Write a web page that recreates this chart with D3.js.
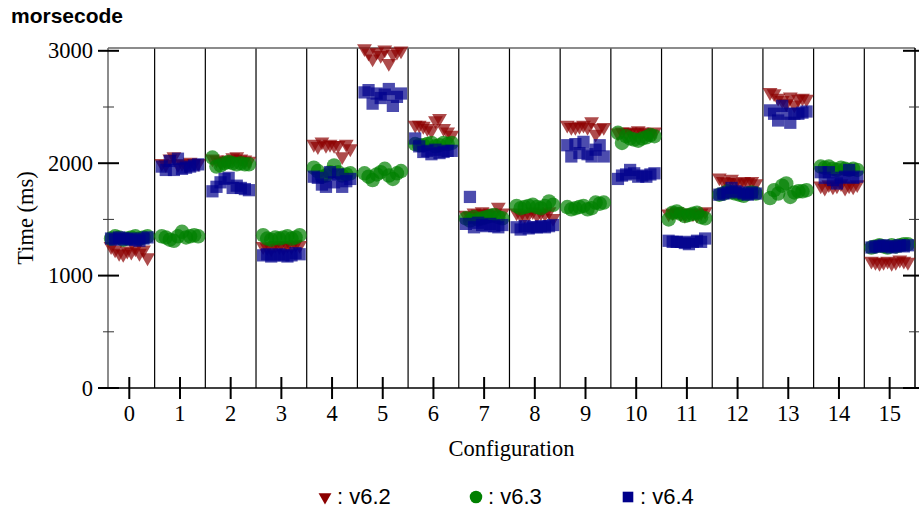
<!DOCTYPE html>
<html>
<head>
<meta charset="utf-8">
<script src="https://cdn.jsdelivr.net/npm/d3@7"></script>
<style>
  body { margin: 0; background: #fff; }
  svg { display: block; }
</style>
</head>
<body>
<svg id="chart"></svg>
<script>
const configs = d3.range(16);
const majorTicks = [0, 1000, 2000, 3000];
const minorTicks = [500, 1500, 2500];

// ten runs per configuration, ms
const v62 = [
  [1260, 1230, 1200, 1190, 1220, 1210, 1240, 1200, 1230, 1160],
  [2000, 1990, 2040, 2060, 1990, 2000, 1980, 2010, 2000, 2000],
  [2040, 2030, 2010, 2020, 2030, 2050, 2060, 2040, 2030, 2020],
  [1260, 1250, 1240, 1270, 1260, 1250, 1270, 1260, 1280, 1270],
  [2170, 2150, 2190, 2160, 2170, 2160, 2160, 2060, 2170, 2130],
  [3020, 2980, 2930, 2990, 2960, 3010, 2890, 2970, 2990, 3000],
  [2340, 2340, 2330, 2310, 2290, 2380, 2400, 2310, 2280, 2250],
  [1540, 1530, 1560, 1550, 1570, 1550, 1560, 1540, 1610, 1560],
  [1560, 1540, 1530, 1550, 1570, 1540, 1560, 1550, 1570, 1510],
  [2340, 2320, 2320, 2330, 2340, 2320, 2370, 2260, 2310, 2320],
  [2270, 2280, 2270, 2280, 2270, 2290, 2280, 2270, 2260, 2280],
  [1550, 1560, 1570, 1550, 1540, 1560, 1550, 1540, 1560, 1570],
  [1870, 1840, 1830, 1860, 1830, 1820, 1840, 1830, 1840, 1820],
  [2630, 2620, 2580, 2560, 2530, 2590, 2520, 2570, 2580, 2570],
  [1800, 1780, 1810, 1790, 1800, 1820, 1780, 1800, 1790, 1810],
  [1130, 1120, 1110, 1120, 1130, 1110, 1120, 1140, 1130, 1120]
];
const v63 = [
  [1330, 1350, 1340, 1320, 1330, 1340, 1350, 1330, 1340, 1350],
  [1350, 1340, 1320, 1310, 1350, 1390, 1340, 1350, 1360, 1350],
  [2050, 1970, 1980, 2000, 2010, 2000, 1990, 2000, 1990, 1990],
  [1360, 1330, 1320, 1340, 1330, 1340, 1350, 1330, 1340, 1360],
  [1960, 1930, 1880, 1890, 1920, 1980, 1920, 1890, 1900, 1910],
  [1910, 1880, 1850, 1900, 1920, 1950, 1890, 1860, 1910, 1930],
  [2170, 2160, 2160, 2170, 2180, 2150, 2160, 2180, 2170, 2180],
  [1510, 1490, 1520, 1500, 1510, 1520, 1530, 1540, 1520, 1510],
  [1620, 1600, 1610, 1620, 1630, 1610, 1600, 1620, 1660, 1630],
  [1610, 1590, 1600, 1610, 1620, 1590, 1600, 1650, 1640, 1650],
  [2270, 2180, 2240, 2220, 2210, 2200, 2220, 2230, 2250, 2240],
  [1500, 1560, 1570, 1550, 1530, 1540, 1550, 1560, 1520, 1510],
  [1720, 1730, 1750, 1740, 1730, 1720, 1710, 1730, 1740, 1730],
  [1690, 1760, 1730, 1800, 1820, 1700, 1740, 1750, 1750, 1760],
  [1970, 1960, 1970, 1950, 1940, 1960, 1950, 1940, 1950, 1940],
  [1250, 1260, 1270, 1260, 1250, 1270, 1260, 1270, 1280, 1280]
];
const v64 = [
  [1330, 1320, 1340, 1330, 1320, 1330, 1320, 1310, 1330, 1340],
  [1970, 1940, 2020, 1940, 2040, 1950, 1960, 1970, 1980, 1990],
  [1750, 1790, 1830, 1860, 1870, 1780, 1800, 1780, 1770, 1760],
  [1180, 1190, 1170, 1180, 1190, 1180, 1170, 1180, 1200, 1190],
  [1880, 1870, 1810, 1790, 1920, 1830, 1900, 1790, 1840, 1860],
  [2630, 2650, 2530, 2620, 2580, 2610, 2660, 2510, 2590, 2620],
  [2220, 2150, 2100, 2110, 2080, 2120, 2090, 2100, 2110, 2110],
  [1460, 1700, 1430, 1470, 1450, 1440, 1460, 1440, 1430, 1450],
  [1430, 1410, 1440, 1420, 1430, 1430, 1440, 1430, 1440, 1450],
  [2160, 2060, 2170, 2090, 2190, 2080, 2060, 2120, 2160, 2060],
  [1860, 1890, 1900, 1940, 1910, 1880, 1890, 1880, 1900, 1910],
  [1310, 1300, 1300, 1300, 1290, 1280, 1300, 1310, 1300, 1330],
  [1720, 1730, 1740, 1780, 1750, 1740, 1730, 1720, 1740, 1730],
  [2470, 2440, 2380, 2510, 2440, 2360, 2440, 2440, 2450, 2460],
  [1920, 1870, 1920, 1850, 1820, 1870, 1880, 1940, 1870, 1880],
  [1250, 1260, 1260, 1270, 1260, 1250, 1260, 1270, 1260, 1270]
];

const series = [
  {name: "v6.2", data: v62, color: "#8b0000", shape: d3.symbolTriangle, size: 95, rot: 180},
  {name: "v6.3", data: v63, color: "#008000", shape: d3.symbolCircle, size: 165, rot: 0},
  {name: "v6.4", data: v64, color: "#00008b", shape: d3.symbolSquare, size: 150, rot: 0}
];

const width = 919;
const height = 510;
const m = {left: 108, right: 915, top: 48, bottom: 388};

const svg = d3.select("#chart")
  .attr("width", width)
  .attr("height", height)
  .attr("viewBox", [0, 0, width, height]);

const x = d3.scaleLinear().domain([-0.42, 15.5]).range([m.left, m.right]);
const y = d3.scaleLinear().domain([0, 3025]).range([m.bottom, m.top]);

const serif = "'Liberation Serif', 'Times New Roman', serif";
const sans = "'Liberation Sans', Arial, sans-serif";

// title
svg.append("text")
  .attr("x", 11)
  .attr("y", 23)
  .attr("font-family", sans)
  .attr("font-weight", "bold")
  .attr("font-size", 21)
  .text("morsecode");

// separators between configurations
svg.append("g")
  .selectAll("line")
  .data(configs.slice(0, -1))
  .join("line")
  .attr("x1", d => x(d + 0.5))
  .attr("x2", d => x(d + 0.5))
  .attr("y1", m.top)
  .attr("y2", m.bottom)
  .attr("stroke", "#000")
  .attr("stroke-width", 1.2);

// frame
svg.append("line").attr("x1", m.left).attr("x2", m.right).attr("y1", m.top).attr("y2", m.top)
  .attr("stroke", "#666").attr("stroke-width", 1.5);
svg.append("line").attr("x1", m.left).attr("x2", m.left).attr("y1", m.top).attr("y2", m.bottom)
  .attr("stroke", "#666").attr("stroke-width", 1.5);
svg.append("line").attr("x1", m.right).attr("x2", m.right).attr("y1", m.top).attr("y2", m.bottom)
  .attr("stroke", "#000").attr("stroke-width", 1.5);
svg.append("line").attr("x1", m.left).attr("x2", m.right).attr("y1", m.bottom).attr("y2", m.bottom)
  .attr("stroke", "#000").attr("stroke-width", 1.5);

// points
const offset = i => (i - 4.5) * 0.08;
series.forEach(s => {
  const pts = [];
  s.data.forEach((runs, c) => runs.forEach((v, i) => pts.push({c, i, v})));
  svg.append("g")
    .attr("fill", s.color)
    .attr("fill-opacity", 0.7)
    .selectAll("path")
    .data(pts)
    .join("path")
    .attr("d", d3.symbol(s.shape, s.size))
    .attr("transform", d => `translate(${x(d.c + offset(d.i))},${y(d.v)}) rotate(${s.rot})`);
});

// y axis ticks
const yAxis = svg.append("g");
yAxis.selectAll(".maj")
  .data(majorTicks)
  .join("line")
  .attr("x1", m.left - 10).attr("x2", m.left + 11)
  .attr("y1", d => y(d)).attr("y2", d => y(d))
  .attr("stroke", "#000").attr("stroke-width", 2);
yAxis.selectAll(".min")
  .data(minorTicks)
  .join("line")
  .attr("x1", m.left - 5).attr("x2", m.left + 6)
  .attr("y1", d => y(d)).attr("y2", d => y(d))
  .attr("stroke", "#333").attr("stroke-width", 1);
yAxis.selectAll(".rmaj")
  .data(majorTicks)
  .join("line")
  .attr("x1", m.right - 12).attr("x2", m.right + 4)
  .attr("y1", d => y(d)).attr("y2", d => y(d))
  .attr("stroke", "#000").attr("stroke-width", 2);
yAxis.selectAll(".rmin")
  .data(minorTicks)
  .join("line")
  .attr("x1", m.right - 6).attr("x2", m.right + 4)
  .attr("y1", d => y(d)).attr("y2", d => y(d))
  .attr("stroke", "#333").attr("stroke-width", 1);
yAxis.selectAll("text")
  .data(majorTicks)
  .join("text")
  .attr("x", m.left - 15)
  .attr("y", d => y(d) + 7.5)
  .attr("text-anchor", "end")
  .attr("font-family", serif)
  .attr("font-size", 22.5)
  .text(d => d);

// x axis ticks
const xAxis = svg.append("g");
xAxis.selectAll("line")
  .data(configs)
  .join("line")
  .attr("x1", d => x(d)).attr("x2", d => x(d))
  .attr("y1", m.bottom - 11).attr("y2", m.bottom + 11)
  .attr("stroke", "#000").attr("stroke-width", 2);
xAxis.selectAll("text")
  .data(configs)
  .join("text")
  .attr("x", d => x(d))
  .attr("y", 421)
  .attr("text-anchor", "middle")
  .attr("font-family", serif)
  .attr("font-size", 22.5)
  .text(d => d);

// axis titles
svg.append("text")
  .attr("x", (m.left + m.right) / 2)
  .attr("y", 456)
  .attr("text-anchor", "middle")
  .attr("font-family", serif)
  .attr("font-size", 22.5)
  .text("Configuration");
svg.append("text")
  .attr("transform", `translate(33,${(m.top + m.bottom) / 2}) rotate(-90)`)
  .attr("text-anchor", "middle")
  .attr("font-family", serif)
  .attr("font-size", 22.5)
  .text("Time (ms)");

// legend
const legendX = [325, 476, 628];
const legend = svg.append("g")
  .selectAll("g")
  .data(series)
  .join("g")
  .attr("transform", (d, i) => `translate(${legendX[i]},497)`);
legend.append("path")
  .attr("d", d => d3.symbol(d.shape, d.size * 0.75)())
  .attr("transform", d => `rotate(${d.rot})`)
  .attr("fill", d => d.color);
legend.append("text")
  .attr("x", 12)
  .attr("y", 7)
  .attr("font-family", sans)
  .attr("font-size", 22)
  .text(d => ": " + d.name);
</script>
</body>
</html>
